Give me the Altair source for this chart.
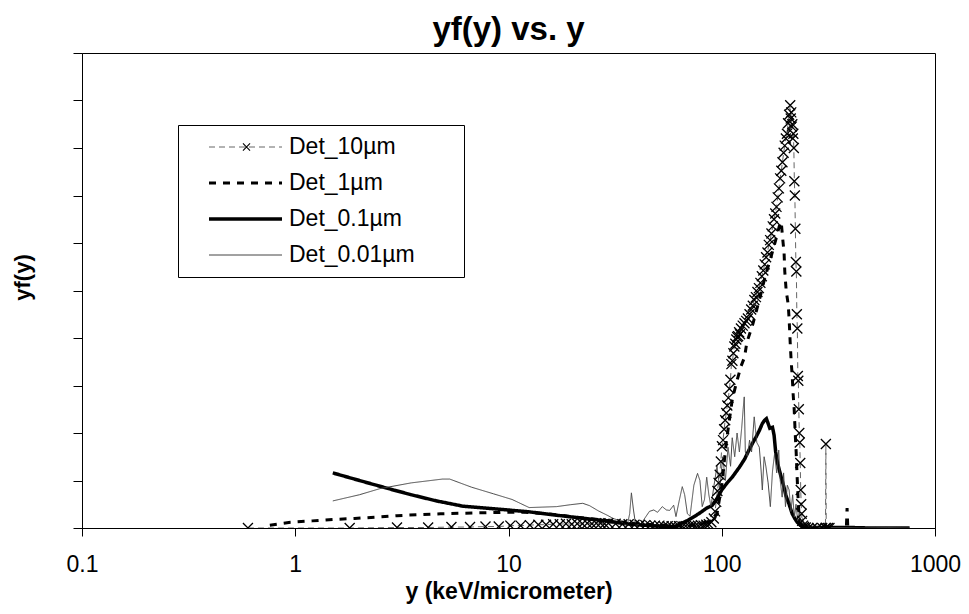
import altair as alt
import pandas as pd

series_names = ["Det_10µm", "Det_1µm", "Det_0.1µm", "Det_0.01µm"]

x_10 = [0.6, 1.8, 3.0, 4.2, 5.4, 6.6, 7.8, 9.0, 10.2, 11.4, 12.6, 13.8, 15.0, 16.2, 17.4, 18.6,
        19.8, 21.0, 22.2, 23.4, 24.6, 25.8, 27.0, 28.2, 29.4, 31.8, 34.2, 36.6, 39.0, 41.4, 43.8,
        46.2, 48.6, 51.0, 53.4, 55.8, 58.2, 60.6, 63.0, 65.4, 67.8, 70.2, 72.6, 75.0, 77.4, 79.8,
        82.2, 84.6, 87.0, 89.4, 91.8, 93.0, 94.2, 95.4, 96.6, 97.8, 99.0, 100.2, 101.4, 102.6,
        103.8, 105.0, 106.2, 107.4, 108.6, 109.8, 111.0, 112.2, 113.4, 114.6, 115.8, 117.0, 118.2,
        119.4, 120.6, 121.8, 123.0, 125.4, 127.8, 130.2, 132.6, 135.0, 137.4, 139.8, 142.2, 144.6,
        147.0, 149.4, 151.8, 154.2, 156.6, 159.0, 161.4, 163.8, 166.2, 168.6, 171.0, 173.4, 175.8,
        178.2, 180.6, 183.0, 185.4, 187.8, 190.2, 192.6, 195.0, 197.4, 199.8, 202.2, 204.6, 207.0,
        209.4, 210.6, 211.8, 213.0, 214.2, 215.4, 216.6, 217.8, 219.0, 220.2, 221.4, 222.6, 223.8,
        225.0, 226.2, 227.4, 228.6, 229.8, 231.0, 232.2, 233.4, 234.6, 235.8, 237.0, 238.2, 240.6,
        243.0, 247.8, 255.0, 265.8, 280.2, 295.8, 306.6, 307.8, 309.0, 315.0, 320.0]
y_10 = [0.0, 0.0, 0.01, 0.01, 0.02, 0.02, 0.03, 0.03, 0.05, 0.05, 0.06, 0.07, 0.07, 0.08, 0.08, 0.09,
        0.08, 0.09, 0.09, 0.1, 0.09, 0.1, 0.1, 0.09, 0.1, 0.09, 0.08, 0.08, 0.07, 0.07, 0.06,
        0.05, 0.05, 0.05, 0.04, 0.04, 0.04, 0.03, 0.04, 0.03, 0.04, 0.04, 0.05, 0.04, 0.05, 0.06,
        0.05, 0.07, 0.08, 0.12, 0.2, 0.35, 0.55, 0.78, 0.95, 1.12, 1.4, 1.72, 1.85, 2.08,
        2.27, 2.42, 2.58, 2.74, 2.93, 3.12, 3.45, 3.52, 3.68, 3.82, 3.88, 3.97, 4.02,
        4.04, 4.12, 4.08, 4.2, 4.26, 4.31, 4.36, 4.41, 4.5, 4.6, 4.68, 4.8, 4.86,
        4.97, 5.05, 5.16, 5.3, 5.42, 5.55, 5.7, 5.8, 5.96, 6.06, 6.2, 6.35, 6.5,
        6.62, 6.76, 6.96, 7.15, 7.36, 7.52, 7.7, 7.9, 8.05, 8.2, 8.3, 8.52, 8.7,
        8.9, 8.62, 8.75, 8.45, 8.5, 8.2, 8.3, 8.0, 7.3, 7.0, 6.3, 5.6, 5.4,
        4.5, 4.2, 3.2, 3.1, 2.5, 2.0, 1.8, 1.37, 0.8, 0.5, 0.3, 0.15, 0.05,
        0.02, 0.01, 0.0, 0.0, 0.0, 0.0, 0.0, 1.77, 0.0, 0.0, 0.0]

x_1 = [0.76, 0.95, 1.2, 1.5, 1.9, 2.4, 3.0, 3.8, 4.8, 6.0, 7.5, 9.5, 12.0, 15.0, 19.0, 24.0, 30.0,
       38.0, 48.0, 60.0, 70.0, 80.0, 88.0, 95.0, 100.0, 105.0, 108.0, 112.0, 117.0, 123.0, 128.0,
       131.0, 140.0, 150.0, 160.0, 170.0, 180.0, 186.0, 190.0, 193.0, 196.0, 197.5, 200.5, 205.0,
       207.0, 209.4, 211.7, 214.0, 216.3, 218.6, 221.0, 223.3, 225.7, 228.2, 230.7, 234.0, 240.0,
       300.0, 384.0, 387.0, 390.0, 420.0]
y_1 = [0.06, 0.12, 0.15, 0.18, 0.2, 0.23, 0.26, 0.28, 0.3, 0.31, 0.32, 0.33, 0.33, 0.3, 0.25, 0.2, 0.15,
       0.1, 0.07, 0.05, 0.05, 0.08, 0.15, 0.3, 0.9, 1.8, 2.2, 2.7, 3.05, 3.4, 3.6,
       3.9, 4.3, 4.8, 5.3, 5.7, 6.1, 6.35, 6.45, 6.1, 5.8, 5.4, 5.0, 4.7,
       4.4, 3.9, 3.5, 3.2, 2.8, 2.5, 2.0, 1.6, 1.07, 0.6, 0.2, 0.05, 0.0,
       0.0, 0.0, 0.42, 0.0, 0.0]

x_01 = [1.5, 2.0, 2.68, 3.5, 4.6, 6.1, 8.8, 12.5, 16.0, 20.0, 25.0, 30.0, 34.0, 40.0, 50.0, 61.0,
        65.0, 70.0, 78.0, 85.0, 90.0, 95.0, 100.0, 106.0, 112.0, 121.0, 128.0, 134.5, 140.0, 145.0,
        150.0, 155.0, 159.0, 162.0, 165.0, 168.0, 173.0, 176.0, 179.0, 183.0, 190.0, 196.0, 200.0,
        207.0, 214.0, 220.0, 226.0, 233.0, 240.0, 250.0, 300.0, 400.0, 500.0, 600.0, 760.0]
y_01 = [1.16, 1.0, 0.84, 0.7, 0.57, 0.46, 0.4, 0.34, 0.28, 0.23, 0.18, 0.14, 0.1, 0.07, 0.04, 0.03,
        0.1, 0.17, 0.3, 0.42, 0.47, 0.62, 0.8, 0.95, 1.07, 1.28, 1.45, 1.65, 1.8, 1.92,
        2.05, 2.2, 2.27, 2.3, 2.2, 2.1, 2.12, 1.95, 1.6, 1.35, 1.07, 0.85, 0.68,
        0.5, 0.3, 0.2, 0.12, 0.06, 0.03, 0.01, 0.01, 0.01, 0.0, 0.0, 0.0]

x_001 = [1.5, 2.0, 2.5, 3.5, 4.9, 5.3, 6.7, 8.5, 10.4, 12.5, 14.5, 16.8, 19.5, 22.3, 24.0, 26.4,
         29.0, 31.0, 33.0, 35.0, 36.0, 37.0, 37.7, 38.5, 39.5, 42.0, 45.8, 48.0, 50.0, 52.6, 55.0,
         57.0, 59.5, 61.0, 63.0, 65.3, 67.0, 69.0, 71.0, 74.0, 77.0, 79.0, 81.0, 83.0, 85.0, 87.0,
         89.0, 92.0, 95.0, 98.0, 101.0, 104.0, 107.0, 110.0, 112.0, 115.0, 118.0, 121.0, 124.0,
         126.0, 127.5, 129.0, 132.0, 135.0, 138.0, 142.0, 146.0, 150.0, 153.0, 155.0, 158.0, 161.0,
         165.0, 169.0, 173.0, 177.0, 181.0, 185.0, 188.0, 192.0, 195.0, 199.0, 203.0, 207.0, 211.0,
         215.0, 219.0, 223.0, 227.0, 231.0, 235.0, 240.0, 245.0, 250.0, 258.0, 270.0, 290.0, 350.0,
         450.0, 600.0, 760.0]
y_001 = [0.57, 0.7, 0.83, 0.95, 1.03, 1.03, 0.86, 0.72, 0.6, 0.43, 0.44, 0.45, 0.49, 0.52, 0.47, 0.36,
         0.27, 0.2, 0.16, 0.08, 0.05, 0.3, 0.74, 0.4, 0.05, 0.1, 0.35, 0.38, 0.33, 0.45, 0.38,
         0.37, 0.48, 0.24, 0.55, 0.87, 0.7, 0.3, 0.25, 0.9, 1.15, 1.0, 0.45, 0.6, 1.07, 0.7,
         0.45, 0.9, 1.3, 0.8, 1.5, 1.0, 1.7, 1.3, 1.9, 1.5, 2.0, 1.6, 2.1,
         2.5, 2.76, 1.6, 1.5, 1.85, 1.6, 2.34, 1.8, 1.7, 1.2, 0.8, 1.5, 1.3,
         0.95, 0.45, 1.2, 1.57, 1.16, 1.64, 1.0, 0.65, 1.16, 0.45, 0.9, 0.8, 0.35,
         0.7, 0.23, 0.5, 0.15, 0.35, 0.08, 0.2, 0.05, 0.1, 0.02, 0.04, 0.0, 0.01,
         0.0, 0.01, 0.0]

x_ticks = [0.1, 1, 10, 100, 1000]
y_ticks = [0, 1, 2, 3, 4, 5, 6, 7, 8, 9, 10]

rows = []
for name, xs, ys in zip(series_names, [x_10, x_1, x_01, x_001], [y_10, y_1, y_01, y_001]):
    for i, (a, b) in enumerate(zip(xs, ys)):
        rows.append({"series": name, "x": a, "y": b, "order": i})
df = pd.DataFrame(rows)
df10 = df[df["series"] == "Det_10µm"].copy()
df10["mk"] = "Det_10µm"

FONT = "Liberation Sans"
XPATH = "M-1,-1L1,1M-1,1L1,-1"
PAD_TAIL = "\u00a0" * 7 + "\u200b"

xscale = alt.Scale(type="log", domain=[0.1, 1000])
yscale = alt.Scale(domain=[0, 10])

legend_common = dict(
    orient="none", legendX=96, legendY=72, padding=4, strokeColor="black", fillColor="white",
    symbolType="stroke", symbolSize=5329, clipHeight=36, rowPadding=0, symbolOffset=25,
    labelOffset=5, labelFontSize=23, labelFont=FONT, labelColor="black", labelLimit=400,
    labelExpr="datum.label + '" + PAD_TAIL + "'",
)

lines = alt.Chart(df).mark_line(clip=True).encode(
    x=alt.X("x:Q", scale=xscale,
            axis=alt.Axis(values=x_ticks, format="~g", title="y (keV/micrometer)")),
    y=alt.Y("y:Q", scale=yscale,
            axis=alt.Axis(values=y_ticks, labels=False, title="yf(y)", titleY=224)),
    color=alt.Color("series:N", title=None,
                    scale=alt.Scale(domain=series_names, range=["#666666", "#000000", "#000000", "#444444"]),
                    legend=alt.Legend(**legend_common)),
    strokeDash=alt.StrokeDash("series:N", title=None,
                              scale=alt.Scale(domain=series_names, range=[[6, 4], [7, 7], [1, 0], [1, 0]]),
                              legend=alt.Legend(**legend_common)),
    strokeWidth=alt.StrokeWidth("series:N", title=None,
                                scale=alt.Scale(type="ordinal", domain=series_names, range=[1, 3, 3.5, 1]),
                                legend=alt.Legend(**legend_common)),
    order="order:Q",
)

points = alt.Chart(df10).mark_point(filled=False, size=100, strokeWidth=1.3, color="black",
                                    opacity=1, clip=True).encode(
    x=alt.X("x:Q", scale=xscale),
    y=alt.Y("y:Q", scale=yscale),
    shape=alt.Shape("mk:N", title=None, scale=alt.Scale(range=[XPATH]),
                    legend=alt.Legend(orient="none", legendX=96, legendY=72, padding=4,
                                      symbolSize=50, clipHeight=36, rowPadding=0, symbolOffset=53,
                                      symbolStrokeColor="black", symbolFillColor="transparent",
                                      symbolStrokeWidth=1.1, labelExpr="''", labelFontSize=23,
                                      labelFont=FONT)),
)

chart = alt.layer(lines, points).properties(
    width=853, height=475,
    padding={"left": 74, "top": 45, "right": 26, "bottom": 78},
    autosize=alt.AutoSizeParams(type="none"),
    background="white",
    title=alt.TitleParams("yf(y) vs. y", font=FONT, fontSize=33, fontWeight="bold",
                          color="black", anchor="middle", offset=6),
).configure_view(
    stroke="black", strokeWidth=1
).configure_axis(
    grid=False, domainColor="black", tickColor="black", labelColor="black", titleColor="black",
    labelFont=FONT, titleFont=FONT, titleFontWeight="bold",
).configure_axisX(
    tickSize=8, labelFontSize=23, labelPadding=17, titleFontSize=23, titlePadding=4,
    labelFlush=False, labelOverlap=False,
).configure_axisY(
    tickSize=9, titleFontSize=22, titlePadding=38,
)

chart.save("out.html", embed_options={"renderer": "svg", "actions": False})
